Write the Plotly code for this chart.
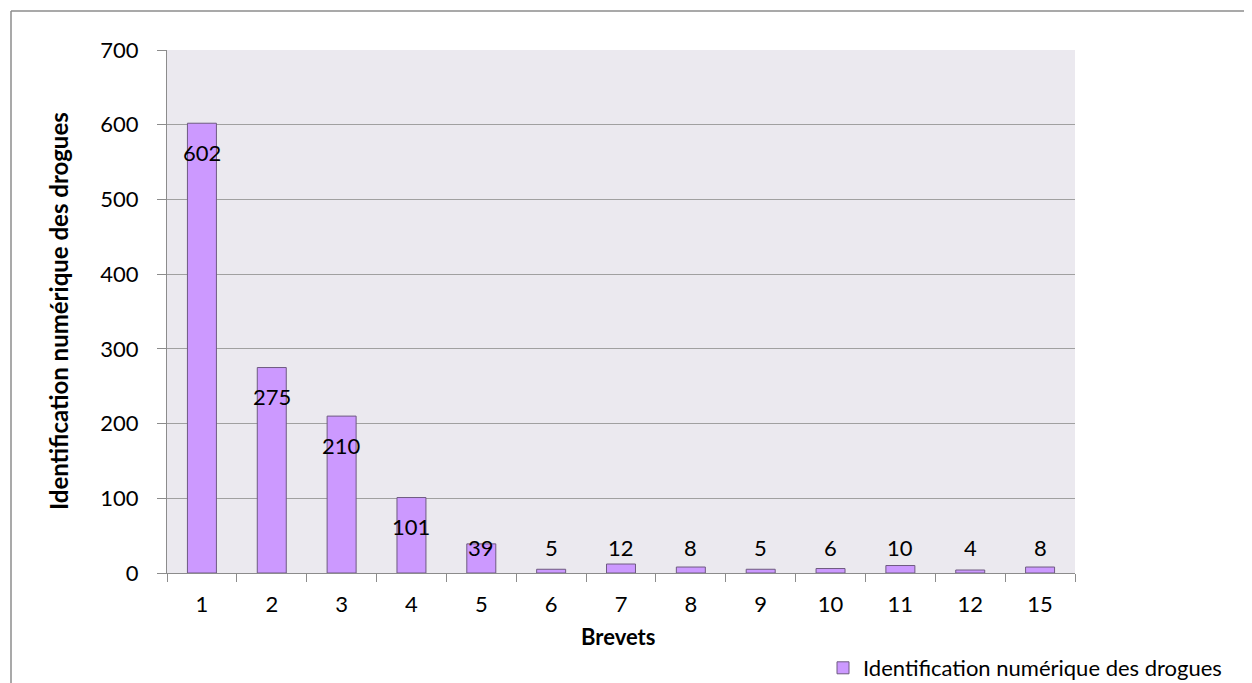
import plotly.graph_objects as go

categories = ["1", "2", "3", "4", "5", "6", "7", "8", "9", "10", "11", "12", "15"]
values = [602, 275, 210, 101, 39, 5, 12, 8, 5, 6, 10, 4, 8]
series_name = "Identification numérique des drogues"
y_ticks = [0, 100, 200, 300, 400, 500, 600, 700]

FONT = "Lato, 'Open Sans', sans-serif"
OFF = 8  # page body margin
W, H = 1252 - OFF, 683 - OFF
L, T = 167 - OFF, 50 - OFF
R, B = W - (1075 - OFF), H - (573 - OFF)
pw, ph = W - L - R, H - T - B
px_per_unit = ph / 700.0

fig = go.Figure()
fig.add_trace(go.Bar(
    x=categories, y=values, name=series_name,
    marker=dict(color="#CC99FF", line=dict(color="#6E5A80", width=1)),
    showlegend=True,
))

# data labels (Excel "inside end" style, clamped near the baseline)
for i, v in enumerate(values):
    ly = max(v - 29 / px_per_unit, 26 / px_per_unit)
    fig.add_annotation(x=i, y=ly, text=str(v), showarrow=False,
                       xref="x", yref="y", yanchor="middle",
                       font=dict(family=FONT, size=22, color="#000000"))

def px(xp):
    return (xp - OFF - L) / pw

def py(yp):
    return (H - B - (yp - OFF)) / ph

# axis titles
fig.add_annotation(x=px(618), y=py(636), xref="paper", yref="paper", showarrow=False,
                   text="<b>Brevets</b>", yanchor="middle", xanchor="center",
                   font=dict(family=FONT, size=22, color="#000000"))
fig.add_annotation(x=px(58), y=py(311), xref="paper", yref="paper", showarrow=False,
                   text="<b>Identification numérique des drogues</b>", textangle=-90,
                   yanchor="middle", xanchor="center",
                   font=dict(family=FONT, size=24, color="#000000"))

# outer chart border
fig.add_shape(type="line", xref="paper", yref="paper",
              x0=px(11), x1=px(1270), y0=py(11), y1=py(11),
              line=dict(color="#8C8C8C", width=1.5))
fig.add_shape(type="line", xref="paper", yref="paper",
              x0=px(11), x1=px(11), y0=py(11), y1=py(700),
              line=dict(color="#8C8C8C", width=1.5))

fig.update_layout(
    width=W, height=H,
    margin=dict(l=L, r=R, t=T, b=B, autoexpand=False),
    paper_bgcolor="white",
    plot_bgcolor="#EBE9EF",
    bargap=0.585,
    font=dict(family=FONT, size=22, color="#000000"),
    legend=dict(orientation="h", x=px(823), xanchor="left", y=py(668), yanchor="middle",
                font=dict(family=FONT, size=22), bgcolor="rgba(0,0,0,0)",
                itemwidth=30),
)
fig.update_xaxes(
    type="category", range=[-0.5, len(categories) - 0.5], automargin=False,
    showline=True, linecolor="#8C8C8C", linewidth=1,
    ticks="outside", tickson="boundaries", ticklen=8, tickcolor="#8C8C8C",
    showgrid=False, tickfont=dict(size=22), ticklabelstandoff=12,
)
fig.update_yaxes(
    range=[0, 700], tickvals=y_ticks, automargin=False,
    showline=True, linecolor="#8C8C8C", linewidth=1,
    ticks="outside", ticklen=9, tickcolor="#8C8C8C",
    showgrid=True, gridcolor="#A0A0A0", gridwidth=1,
    zeroline=False, tickfont=dict(size=22), ticklabelstandoff=14,
)

fig.write_html("out.html")
